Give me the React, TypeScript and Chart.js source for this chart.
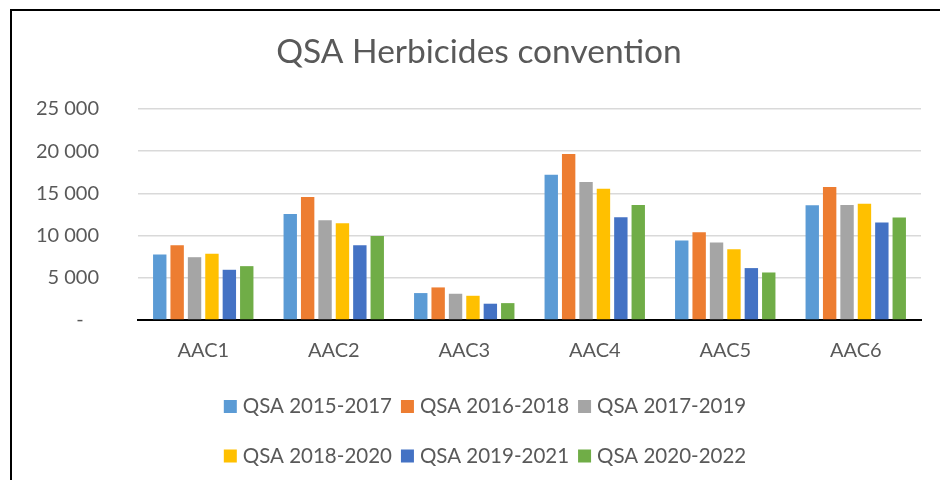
import React, { useEffect, useRef } from "react";
import { Chart, registerables } from "chart.js";

Chart.register(...registerables);

const title = "QSA Herbicides convention";
const categories = ["AAC1", "AAC2", "AAC3", "AAC4", "AAC5", "AAC6"];
const seriesNames = [
  "QSA 2015-2017",
  "QSA 2016-2018",
  "QSA 2017-2019",
  "QSA 2018-2020",
  "QSA 2019-2021",
  "QSA 2020-2022",
];
const qsa20152017 = [7750, 12560, 3190, 17210, 9410, 13590];
const qsa20162018 = [8860, 14570, 3860, 19660, 10400, 15760];
const qsa20172019 = [7440, 11820, 3110, 16350, 9170, 13630];
const qsa20182020 = [7840, 11460, 2870, 15560, 8390, 13780];
const qsa20192021 = [5950, 8860, 1930, 12170, 6150, 11540];
const qsa20202022 = [6380, 9960, 2000, 13630, 5630, 12130];
const seriesValues = [qsa20152017, qsa20162018, qsa20172019, qsa20182020, qsa20192021, qsa20202022];
const seriesColors = ["#5B9BD5", "#ED7D31", "#A5A5A5", "#FFC000", "#4472C4", "#70AD47"];
const yTicks = [0, 5000, 10000, 15000, 20000, 25000];

const FONT = "Lato, 'Open Sans', sans-serif";
const TEXT = "#595959";

const framePlugin = {
  id: "frame",
  beforeDraw(chart: any) {
    const ctx = chart.ctx;
    ctx.save();
    ctx.fillStyle = "#ffffff";
    ctx.fillRect(0, 0, chart.width, chart.height);
    ctx.strokeStyle = "#000000";
    ctx.lineWidth = 2;
    ctx.beginPath();
    ctx.moveTo(11, chart.height + 2);
    ctx.lineTo(11, 10);
    ctx.lineTo(chart.width + 2, 10);
    ctx.stroke();
    ctx.restore();
  },
};

const legendPlugin = {
  id: "customLegend",
  afterDraw(chart: any) {
    const ctx = chart.ctx;
    const datasets = chart.data.datasets;
    const rows = [
      [0, 1, 2],
      [3, 4, 5],
    ];
    const rowY = [406.5, 456];
    const box = 13;
    const gapText = 6;
    const gapItem = 9;
    const centerX = 485;
    ctx.save();
    ctx.font = `20.5px ${FONT}`;
    ctx.textBaseline = "middle";
    ctx.textAlign = "left";
    rows.forEach((row, ri) => {
      const widths = row.map((i) => ctx.measureText(datasets[i].label).width);
      const total =
        widths.reduce((a, w) => a + box + gapText + w, 0) + gapItem * (row.length - 1);
      let x = centerX - total / 2;
      const y = rowY[ri];
      row.forEach((i, k) => {
        ctx.fillStyle = datasets[i].backgroundColor;
        ctx.fillRect(x, y - box / 2, box, box);
        ctx.fillStyle = TEXT;
        ctx.fillText(datasets[i].label, x + box + gapText, y);
        x += box + gapText + widths[k] + gapItem;
      });
    });
    ctx.restore();
  },
};

function formatTick(v: number): string {
  if (v === 0) return "-   ";
  const s = String(Math.round(v));
  return s.replace(/\B(?=(\d{3})+(?!\d))/g, " ");
}

export default function App() {
  const ref = useRef<HTMLCanvasElement | null>(null);

  useEffect(() => {
    document.body.style.margin = "0";
    const canvas = ref.current;
    if (!canvas) return;
    const chart = new Chart(canvas, {
      type: "bar",
      data: {
        labels: categories,
        datasets: seriesNames.map((name, i) => ({
          label: name,
          data: seriesValues[i],
          backgroundColor: seriesColors[i],
          borderWidth: 0,
          categoryPercentage: 0.8,
          barPercentage: 0.77,
        })),
      },
      options: {
        responsive: false,
        animation: false,
        devicePixelRatio: 1,
        layout: { padding: { left: 37, right: 19, top: 0, bottom: 0 } },
        plugins: {
          legend: { display: false },
          tooltip: { enabled: false },
          title: {
            display: true,
            text: title,
            color: TEXT,
            font: { family: FONT, size: 33.5, weight: "normal" },
            padding: { top: 32.1, bottom: 36.7 },
          },
        },
        scales: {
          x: {
            grid: { display: false, drawTicks: false },
            border: { display: true, color: "#000000", width: 2 },
            ticks: {
              color: TEXT,
              font: { family: FONT, size: 20 },
              padding: 19,
              maxRotation: 0,
            },
            afterFit(s: any) {
              s.height = 160;
            },
          },
          y: {
            min: 0,
            max: 25000,
            afterBuildTicks(s: any) {
              s.ticks = yTicks.map((v) => ({ value: v }));
            },
            grid: { color: "#D9D9D9", lineWidth: 1.5, drawTicks: false },
            border: { display: false },
            ticks: {
              color: TEXT,
              font: { family: FONT, size: 20 },
              padding: 39,
              callback: (v: any) => formatTick(Number(v)),
            },
            afterFit(s: any) {
              s.width = 101;
            },
          },
        },
      },
      plugins: [framePlugin, legendPlugin],
    });
    return () => chart.destroy();
  }, []);

  return (
    <div style={{ width: 940, height: 480 }}>
      <canvas ref={ref} width={940} height={480} style={{ display: "block", width: 940, height: 480 }} />
    </div>
  );
}
